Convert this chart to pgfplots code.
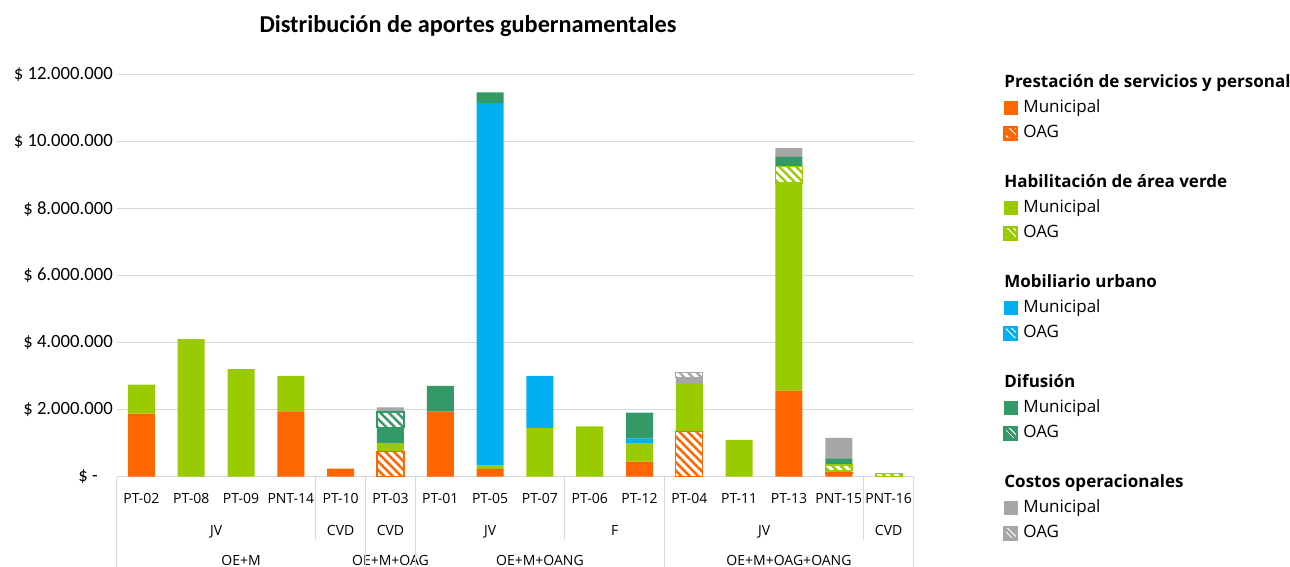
\documentclass[border=0pt]{standalone}
\usepackage{pgfplots}
\pgfplotsset{compat=1.18}
\usepackage{fontspec}
\setmainfont{Open Sans}
\newfontfamily\calibri{Carlito}
\usetikzlibrary{patterns.meta}

\definecolor{cOr}{HTML}{FF6600}
\definecolor{cGr}{HTML}{99CC00}
\definecolor{cBl}{HTML}{00B0F0}
\definecolor{cTe}{HTML}{339966}
\definecolor{cGy}{HTML}{A6A6A6}
\definecolor{cGrid}{HTML}{D9D9D9}

\pgfplotsset{
  solidbar/.style={fill=#1, draw=none,
    legend image code/.code={\fill[#1] (0pt,-7pt) rectangle (14pt,7pt);}},
  hatchbar/.style={fill=white, draw=#1, line width=1.2pt,
    postaction={pattern={Lines[angle=-45,distance=6pt,line width=2.4pt]}, pattern color=#1},
    legend image code/.code={
      \fill[#1] (0pt,-7pt) rectangle (14pt,7pt);
      \fill[pattern={Lines[angle=-45,distance=4pt,line width=1.3pt]}, pattern color=white] (1.5pt,-5.5pt) rectangle (12.5pt,5.5pt);}},
}
\tikzset{
  sepline/.style={cGrid, line width=1.3pt},
  lvlnode/.style={anchor=base, inner sep=0pt, font=\fontsize{14}{14}\selectfont},
}

\begin{document}
\begin{tikzpicture}[x=1pt,y=1pt]
\useasboundingbox (0,0) rectangle (1290,567);
\begin{axis}[
  at={(116.5pt,90.3pt)}, anchor=south west,
  scale only axis, width=797pt, height=402pt,
  ybar stacked, bar width=27pt,
  xmin=-0.5, xmax=15.5, ymin=0, ymax=12000000,
  clip mode=individual,
  axis line style={draw=none},
  tick style={draw=none},
  scaled y ticks=false,
  ytick={0,2000000,4000000,6000000,8000000,10000000,12000000},
  yticklabels={\$ -\hspace*{15pt},\$ 2.000.000,\$ 4.000.000,\$ 6.000.000,\$ 8.000.000,\$ 10.000.000,\$ 12.000.000},
  yticklabel style={font=\calibri\fontsize{18.7}{18.7}\selectfont, inner sep=0pt, xshift=-3.5pt},
  ymajorgrids, grid style={cGrid, line width=1.3pt},
  xtick={0,...,15},
  xticklabels={PT-02,PT-08,PT-09,PNT-14,PT-10,PT-03,PT-01,PT-05,PT-07,PT-06,PT-12,PT-04,PT-11,PT-13,PNT-15,PNT-16},
  xticklabel style={font=\fontsize{14}{14}\selectfont, anchor=base, inner sep=0pt, yshift=-26.5pt},
  legend cell align=left,
  legend style={at={(1.1123,1.003)}, anchor=north west, draw=none, fill=none,
    inner sep=0pt, row sep=6pt, column sep=5pt,
    font=\fontsize{17}{20}\selectfont,
    nodes={inner sep=0pt, text height=14pt, text depth=5pt}},
]
\addlegendimage{empty legend}
\addlegendentry{\hspace*{-19pt}\textbf{Prestación de servicios y personal}}
% Prestación - Municipal
\addplot[solidbar=cOr] coordinates {(0,1880000) (1,0) (2,0) (3,1950000) (4,240000) (5,0) (6,1940000) (7,230000) (8,0) (9,0) (10,450000) (11,0) (12,0) (13,2570000) (14,90000) (15,0)};
\addlegendentry{Municipal}
% Prestación - OAG
\addplot[hatchbar=cOr] coordinates {(-3,0) (-3,0) (-3,0) (-3,0) (-3,0) (5,760000) (-3,0) (-3,0) (-3,0) (-3,0) (-3,0) (11,1350000) (-3,0) (-3,0) (14,40000) (-3,0)};
\addlegendentry{OAG}
\addlegendimage{empty legend}
\addlegendentry{}
\addlegendimage{empty legend}
\addlegendentry{\hspace*{-19pt}\textbf{Habilitación de área verde}}
% Habilitación - Municipal
\addplot[solidbar=cGr] coordinates {(0,870000) (1,4110000) (2,3210000) (3,1060000) (4,0) (5,240000) (6,0) (7,100000) (8,1450000) (9,1500000) (10,540000) (11,1410000) (12,1100000) (13,6200000) (14,50000) (15,0)};
\addlegendentry{Municipal}
% Habilitación - OAG
\addplot[hatchbar=cGr] coordinates {(-3,0) (-3,0) (-3,0) (-3,0) (-3,0) (-3,0) (-3,0) (-3,0) (-3,0) (-3,0) (-3,0) (-3,0) (-3,0) (13,490000) (14,170000) (15,100000)};
\addlegendentry{OAG}
\addlegendimage{empty legend}
\addlegendentry{}
\addlegendimage{empty legend}
\addlegendentry{\hspace*{-19pt}\textbf{Mobiliario urbano}}
% Mobiliario - Municipal
\addplot[solidbar=cBl] coordinates {(0,0) (1,0) (2,0) (3,0) (4,0) (5,0) (6,0) (7,10820000) (8,1560000) (9,0) (10,150000) (11,0) (12,0) (13,0) (14,0) (15,0)};
\addlegendentry{Municipal}
% Mobiliario - OAG
\addplot[hatchbar=cBl] coordinates {(-3,0) (-3,0) (-3,0) (-3,0) (-3,0) (-3,0) (-3,0) (-3,0) (-3,0) (-3,0) (-3,0) (-3,0) (-3,0) (-3,0) (-3,0) (-3,0)};
\addlegendentry{OAG}
\addlegendimage{empty legend}
\addlegendentry{}
\addlegendimage{empty legend}
\addlegendentry{\hspace*{-19pt}\textbf{Difusión}}
% Difusión - Municipal
\addplot[solidbar=cTe] coordinates {(0,0) (1,0) (2,0) (3,0) (4,0) (5,460000) (6,770000) (7,320000) (8,0) (9,0) (10,770000) (11,0) (12,0) (13,290000) (14,200000) (15,0)};
\addlegendentry{Municipal}
% Difusión - OAG
\addplot[hatchbar=cTe] coordinates {(-3,0) (-3,0) (-3,0) (-3,0) (-3,0) (5,470000) (-3,0) (-3,0) (-3,0) (-3,0) (-3,0) (-3,0) (-3,0) (-3,0) (-3,0) (-3,0)};
\addlegendentry{OAG}
\addlegendimage{empty legend}
\addlegendentry{}
\addlegendimage{empty legend}
\addlegendentry{\hspace*{-19pt}\textbf{Costos operacionales}}
% Costos - Municipal
\addplot[solidbar=cGy] coordinates {(0,0) (1,0) (2,0) (3,0) (4,0) (5,140000) (6,0) (7,0) (8,0) (9,0) (10,0) (11,210000) (12,0) (13,260000) (14,610000) (15,0)};
\addlegendentry{Municipal}
% Costos - OAG
\addplot[hatchbar=cGy] coordinates {(-3,0) (-3,0) (-3,0) (-3,0) (-3,0) (-3,0) (-3,0) (-3,0) (-3,0) (-3,0) (-3,0) (11,140000) (-3,0) (-3,0) (-3,0) (-3,0)};
\addlegendentry{OAG}

% category table lines
\draw[sepline] (axis cs:-0.5,0) -- (axis cs:15.5,0);
\draw[sepline] (axis cs:-0.5,0) -- ([yshift=-91pt]axis cs:-0.5,0);
\draw[sepline] (axis cs:4.5,0) -- ([yshift=-91pt]axis cs:4.5,0);
\draw[sepline] (axis cs:5.5,0) -- ([yshift=-91pt]axis cs:5.5,0);
\draw[sepline] (axis cs:10.5,0) -- ([yshift=-91pt]axis cs:10.5,0);
\draw[sepline] (axis cs:15.5,0) -- ([yshift=-91pt]axis cs:15.5,0);
\draw[sepline] (axis cs:3.5,0) -- ([yshift=-63pt]axis cs:3.5,0);
\draw[sepline] (axis cs:8.5,0) -- ([yshift=-63pt]axis cs:8.5,0);
\draw[sepline] (axis cs:14.5,0) -- ([yshift=-63pt]axis cs:14.5,0);
% second level
\node[lvlnode] at ([yshift=-59.3pt]axis cs:1.5,0) {JV};
\node[lvlnode] at ([yshift=-59.3pt]axis cs:4,0) {CVD};
\node[lvlnode] at ([yshift=-59.3pt]axis cs:5,0) {CVD};
\node[lvlnode] at ([yshift=-59.3pt]axis cs:7,0) {JV};
\node[lvlnode] at ([yshift=-59.3pt]axis cs:9.5,0) {F};
\node[lvlnode] at ([yshift=-59.3pt]axis cs:12.5,0) {JV};
\node[lvlnode] at ([yshift=-59.3pt]axis cs:15,0) {CVD};
% third level
\node[lvlnode] at ([yshift=-89pt]axis cs:2,0) {OE+M};
\node[lvlnode] at ([yshift=-89pt]axis cs:5,0) {OE+M+OAG};
\node[lvlnode] at ([yshift=-89pt]axis cs:8,0) {OE+M+OANG};
\node[lvlnode] at ([yshift=-89pt]axis cs:13,0) {OE+M+OAG+OANG};
\end{axis}
\node[anchor=base, inner sep=0pt, font=\calibri\bfseries\fontsize{24.3}{24.3}\selectfont] at (468,534) {Distribución de aportes gubernamentales};
\end{tikzpicture}
\end{document}
